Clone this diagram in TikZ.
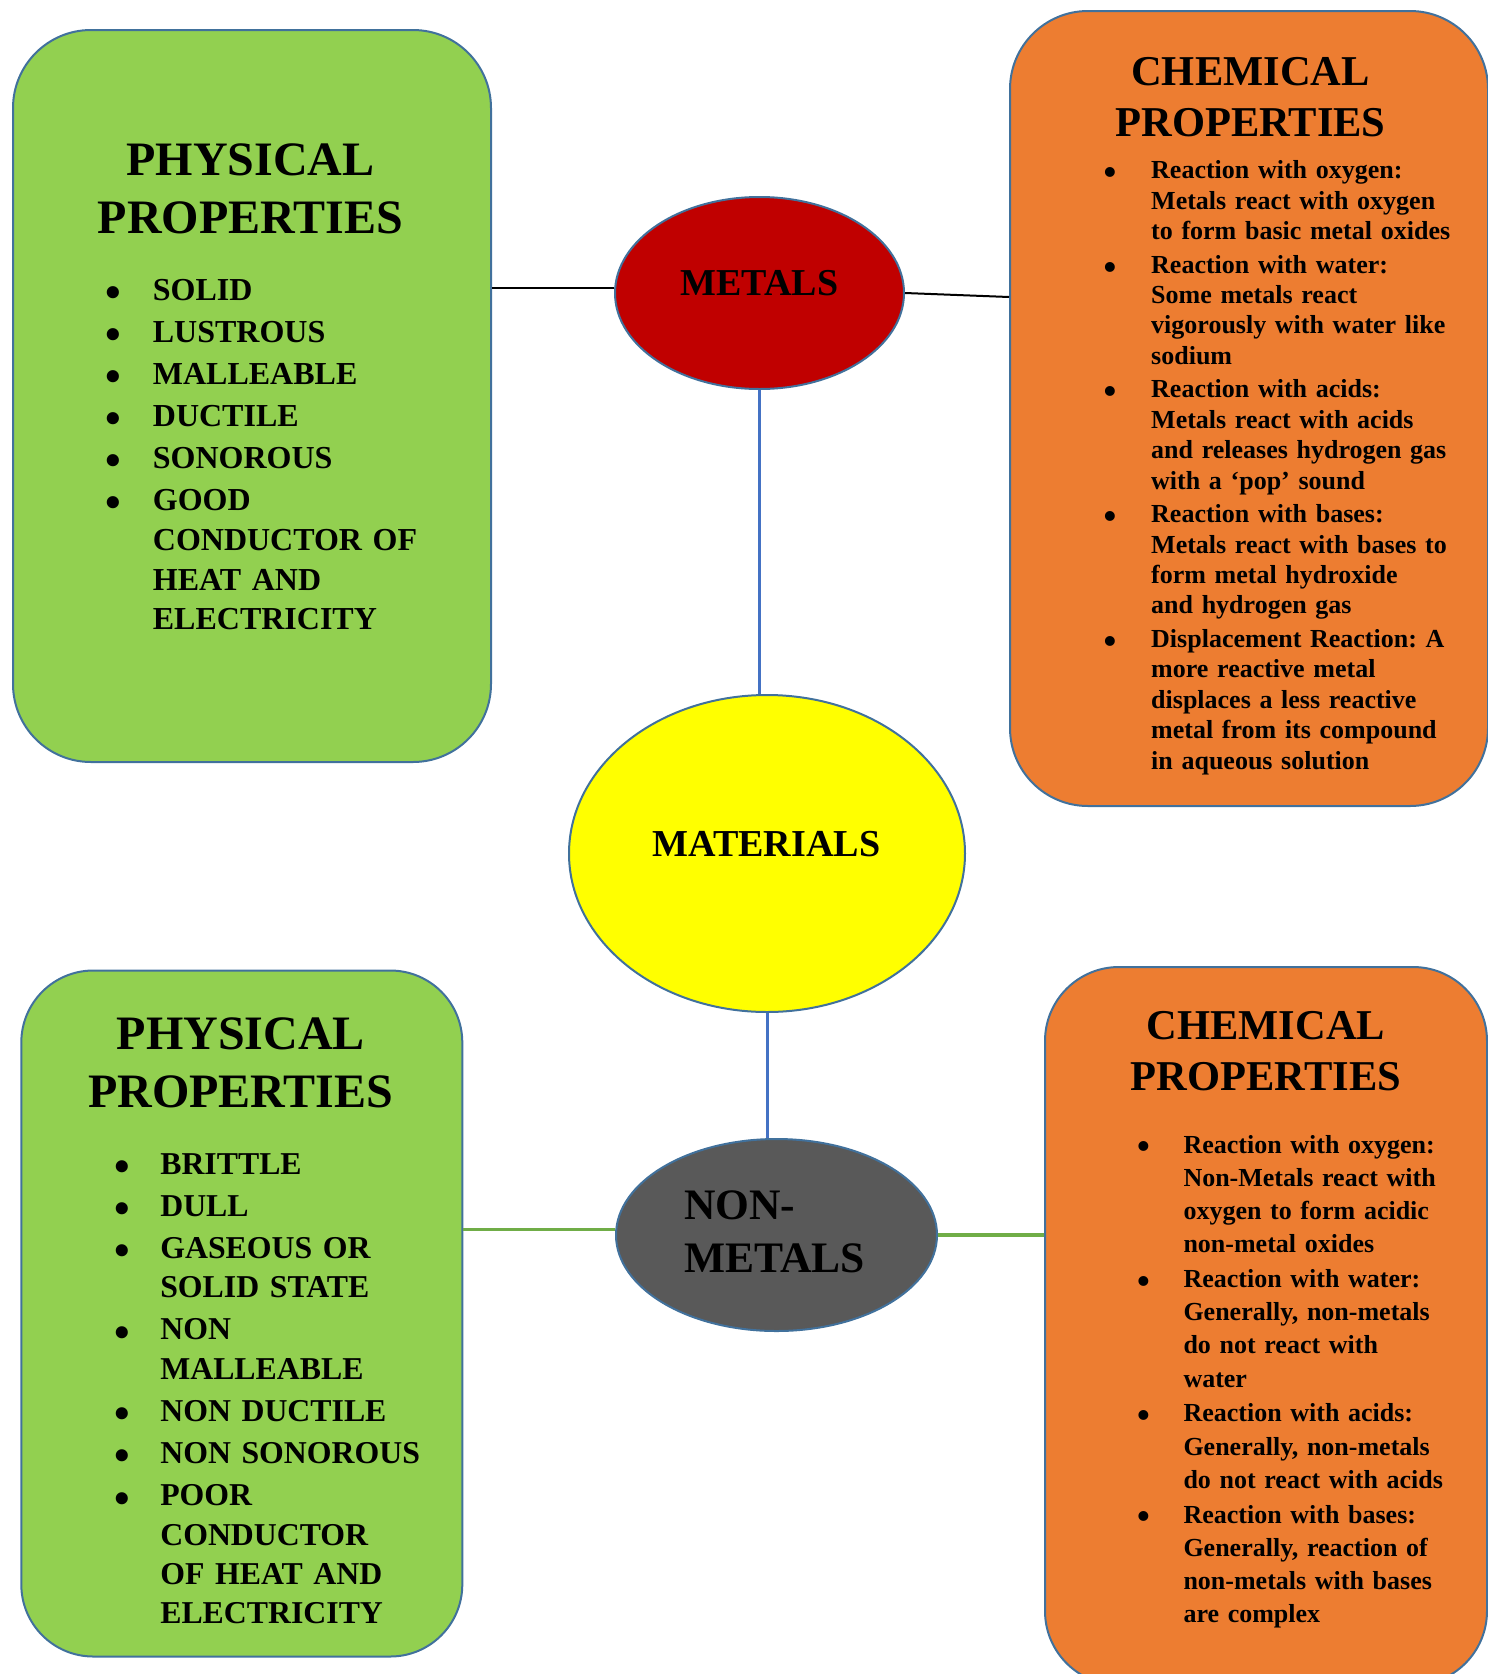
\documentclass[tikz,border=0pt]{standalone}
\usepackage{fontspec}
\setmainfont{Liberation Serif}
\usetikzlibrary{shapes.geometric}
\definecolor{boxgreen}{HTML}{92D050}
\definecolor{boxorange}{HTML}{ED7D31}
\definecolor{edgeblue}{HTML}{41719C}
\definecolor{lineblue}{HTML}{4472C4}
\definecolor{linegreen}{HTML}{70AD47}
\definecolor{metalred}{HTML}{C00000}
\definecolor{matyellow}{HTML}{FFFF00}
\definecolor{nonmetalgray}{HTML}{595959}
\tikzstyle{every node}=[font=\bfseries,inner sep=0pt]
\tikzstyle{propbox}=[rectangle,draw=edgeblue,line width=2pt]
\tikzstyle{physbox}=[propbox,fill=boxgreen]
\tikzstyle{chembox}=[propbox,fill=boxorange]
\tikzstyle{blob}=[ellipse,draw=edgeblue,line width=2pt]
\tikzstyle{boxtitle}=[anchor=base,align=center]
\tikzstyle{boxlist}=[anchor=base west]
\newlength{\bulind}
\newcommand{\bitem}[1]{\hangindent=\bulind\hangafter=1\noindent
  \makebox[\bulind][l]{\raisebox{-0.23em}{\scalebox{1.4}{\textbullet}}}#1\par}

\begin{document}
\frenchspacing
\begin{tikzpicture}[x=1pt,y=-1pt]
\useasboundingbox (0,0) rectangle (1488,1674);
% boxes
\node[physbox,rounded corners=78pt,minimum width=478pt,minimum height=732pt] (physM) at (252,396) {};
\node[chembox,rounded corners=78pt,minimum width=478pt,minimum height=795pt] (chemM) at (1249,408.5) {};
\node[physbox,rounded corners=72pt,minimum width=441pt,minimum height=686pt] (physN) at (241.8,1313.5) {};
\node[chembox,rounded corners=74pt,minimum width=442pt,minimum height=718pt] (chemN) at (1266,1326) {};
% ellipses
\node[blob,fill=metalred,minimum width=289pt,minimum height=192pt] (metals) at (759.5,293) {};
\node[blob,fill=matyellow,minimum width=396pt,minimum height=317pt] (materials) at (767,853.5) {};
\node[blob,fill=nonmetalgray,minimum width=321pt,minimum height=192pt] (nonmetals) at (776.5,1235) {};
% connectors
\draw[line width=2pt] (physM.east |- metals.178) -- (metals.178);
\draw[line width=2pt] (metals.east) -- ([yshift=-4pt]chemM.west |- metals.east);
\draw[lineblue,line width=3pt] (metals.south) -- (metals.south |- materials.north);
\draw[lineblue,line width=3pt] (materials.south) -- (materials.south |- nonmetals.north);
\draw[linegreen,line width=3.5pt] (physN.east |- nonmetals.178) -- (nonmetals.178);
\draw[linegreen,line width=3.5pt] (nonmetals.east) -- (chemN.west |- nonmetals.east);
% labels
\node[font=\fontsize{38}{44}\selectfont\bfseries] (metalsT) at (759.5,283) {METALS};
\node[font=\fontsize{38.1}{44}\selectfont\bfseries] (materialsT) at (766.4,844.3) {MATERIALS};
\node[boxlist,align=left,text width=220pt,font=\fontsize{43.5}{53}\selectfont\bfseries] (nonmetalsT) at (684,1219) {NON-\\METALS};
% metals side
\node[boxtitle,text width=440pt,font=\fontsize{48}{58}\selectfont\bfseries] (physMT) at (250.5,175) {PHYSICAL\\PROPERTIES};
\node[boxlist,text width=370pt,font=\fontsize{32}{39.8}\selectfont\bfseries] (physML) at (105.4,300) {%
  \setlength{\bulind}{47.3pt}\setlength{\parskip}{2.3pt}%
  \bitem{SOLID}\bitem{LUSTROUS}\bitem{MALLEABLE}\bitem{DUCTILE}\bitem{SONOROUS}%
  \bitem{GOOD\newline CONDUCTOR OF\newline HEAT AND\newline ELECTRICITY}};
\node[boxtitle,text width=440pt,font=\fontsize{42.5}{51.7}\selectfont\bfseries] (chemMT) at (1250.5,85) {CHEMICAL\\PROPERTIES};
\node[boxlist,text width=370pt,font=\fontsize{26}{30.4}\selectfont\bfseries] (chemML) at (1103.3,178.7) {%
  \setlength{\bulind}{47.7pt}\setlength{\parskip}{3.2pt}%
  \bitem{Reaction with oxygen:\newline Metals react with oxygen\newline to form basic metal oxides}%
  \bitem{Reaction with water:\newline Some metals react\newline vigorously with water like\newline sodium}%
  \bitem{Reaction with acids:\newline Metals react with acids\newline and releases hydrogen gas\newline with a ‘pop’ sound}%
  \bitem{Reaction with bases:\newline Metals react with bases to\newline form metal hydroxide\newline and hydrogen gas}%
  \bitem{Displacement Reaction: A\newline more reactive metal\newline displaces a less reactive\newline metal from its compound\newline in aqueous solution}};
% non-metals side
\node[boxtitle,text width=420pt,font=\fontsize{48}{58}\selectfont\bfseries] (physNT) at (240.7,1049) {PHYSICAL\\PROPERTIES};
\node[boxlist,text width=340pt,font=\fontsize{31.8}{39.3}\selectfont\bfseries] (physNL) at (113.9,1174) {%
  \setlength{\bulind}{46.2pt}\setlength{\parskip}{2.9pt}%
  \bitem{BRITTLE}\bitem{DULL}\bitem{GASEOUS OR\newline SOLID STATE}\bitem{NON\newline MALLEABLE}%
  \bitem{NON DUCTILE}\bitem{NON SONOROUS}\bitem{POOR\newline CONDUCTOR\newline OF HEAT AND\newline ELECTRICITY}};
\node[boxtitle,text width=420pt,font=\fontsize{42.5}{51}\selectfont\bfseries] (chemNT) at (1266,1039) {CHEMICAL\\PROPERTIES};
\node[boxlist,text width=340pt,font=\fontsize{26}{33.2}\selectfont\bfseries] (chemNL) at (1137,1153) {%
  \setlength{\bulind}{46.3pt}\setlength{\parskip}{1.6pt}%
  \bitem{Reaction with oxygen:\newline Non-Metals react with\newline oxygen to form acidic\newline non-metal oxides}%
  \bitem{Reaction with water:\newline Generally, non-metals\newline do not react with\newline water}%
  \bitem{Reaction with acids:\newline Generally, non-metals\newline do not react with acids}%
  \bitem{Reaction with bases:\newline Generally, reaction of\newline non-metals with bases\newline are complex}};
\end{tikzpicture}
\end{document}
